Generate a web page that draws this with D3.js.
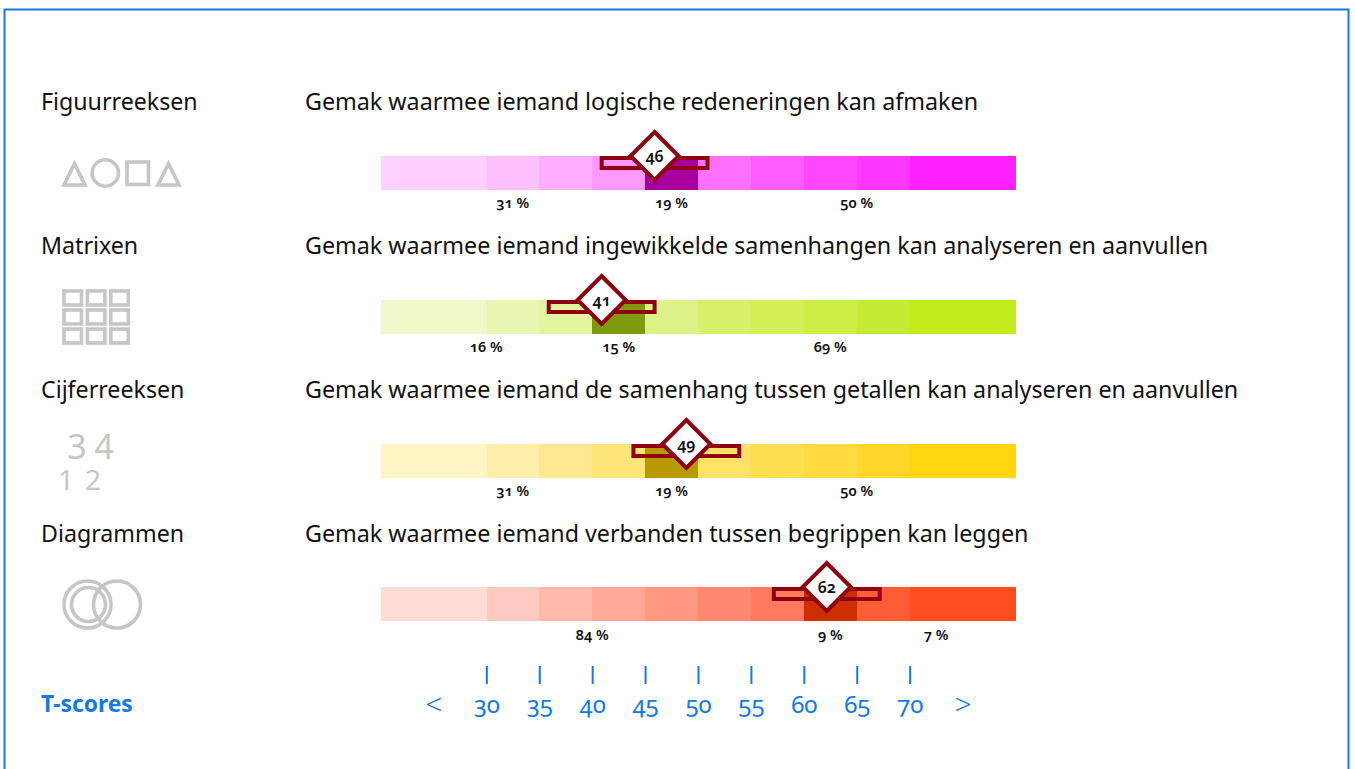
<!DOCTYPE html>
<html><head><meta charset="utf-8">
<script src="https://cdnjs.cloudflare.com/ajax/libs/d3/7.8.5/d3.min.js"></script>
<style>
html,body{margin:0;padding:0;background:#fff;overflow:hidden}
text{font-family:"Noto Sans","Open Sans",sans-serif;font-feature-settings:"onum" 1,"lnum" 0;}
</style></head><body><svg id="c" width="1355" height="769"></svg>
<script>
const categories=["Figuurreeksen","Matrixen","Cijferreeksen","Diagrammen"];
const descriptions=[
"Gemak waarmee iemand logische redeneringen kan afmaken",
"Gemak waarmee iemand ingewikkelde samenhangen kan analyseren en aanvullen",
"Gemak waarmee iemand de samenhang tussen getallen kan analyseren en aanvullen",
"Gemak waarmee iemand verbanden tussen begrippen kan leggen"];
const scores=[46,41,49,62];
const markerScores=[45.85,40.85,48.85,62.12];
const percentBelow=[31,16,31,84];
const percentWithin=[19,15,19,9];
const percentAbove=[50,69,50,7];
const bandEdges=[20,30,35,40,45,50,55,60,65,70,80];
const tickValues=[30,35,40,45,50,55,60,65,70];
const axisTitle="T-scores";
const scoreMargin=5, bandWidth=5;
const palettes=[
["#ffd0ff","#ffc0ff","#ffadff","#ff99ff","#a8009c","#ff70ff","#ff5cff","#ff47ff","#ff36ff","#ff20ff"],
["#eef8c8","#e7f6b2","#e1f49e","#7f9a0c","#dcf288","#d8f16a","#d2ef58","#cbed45","#c5ec32","#c3ec1e"],
["#fff5c4","#ffeeaa","#ffe88f","#ffe477","#b89a00","#ffe266","#ffde50","#ffdb3f","#ffd72a","#ffd60f"],
["#ffdcd4","#ffcbc0","#ffb9aa","#ffa996","#ff9881","#ff8970","#ff7a5e","#cf2e00","#ff5c36","#ff4d22"]];
const ink="#111", blue="#1478e6", red="#8f0010", gray="#c6c6c6";

const svg=d3.select("#c");
svg.append("rect").attr("x",4.5).attr("y",9.5).attr("width",1344).attr("height",800)
  .attr("fill","none").attr("stroke",blue).attr("stroke-width",2);

const x=d3.scaleLinear().domain([20,80]).range([381,1016]);
const snap=v=>Math.floor(x(v)+0.2);
const rowY=d3.scalePoint().domain(categories).range([156,587.4]);
const titleY=d3.scalePoint().domain(categories).range([110,542]);
const pctY=d3.scalePoint().domain(categories).range([208,640]);
const barH=34;

categories.forEach((cat,i)=>{
  const y0=Math.round(rowY(cat));
  const g=svg.append("g");
  g.append("text").attr("x",41).attr("y",titleY(cat)).attr("font-size",23.2).attr("fill",ink).text(cat);
  g.append("text").attr("x",305).attr("y",titleY(cat)).attr("font-size",23.28).attr("fill",ink).text(descriptions[i]);
  g.selectAll("rect.band").data(d3.pairs(bandEdges)).join("rect").attr("class","band")
    .attr("x",d=>snap(d[0])).attr("y",y0).attr("width",d=>snap(d[1])-snap(d[0])).attr("height",barH)
    .attr("fill",(d,j)=>palettes[i][j]);
  const lo=Math.floor(scores[i]/bandWidth)*bandWidth, hi=lo+bandWidth;
  const labels=[[(20+lo)/2,percentBelow[i]],[(lo+hi)/2,percentWithin[i]],[(hi+80)/2,percentAbove[i]]];
  g.selectAll("text.pct").data(labels).join("text").attr("class","pct")
    .attr("x",d=>x(d[0])-0.5).attr("y",pctY(cat)).attr("text-anchor","middle").attr("font-size",14.5).attr("font-weight",600).attr("fill",ink)
    .text(d=>d[1]+" %");
  const m=markerScores[i], cx=x(m), cy=y0;
  g.append("rect").attr("x",x(m-scoreMargin)).attr("y",y0+2).attr("width",x(m+scoreMargin)-x(m-scoreMargin)).attr("height",10)
    .attr("fill","none").attr("stroke",red).attr("stroke-width",4);
  g.append("path").attr("d",`M${cx},${cy-24}L${cx+24},${cy}L${cx},${cy+24}L${cx-24},${cy}Z`)
    .attr("fill","#fff").attr("stroke",red).attr("stroke-width",4);
  g.append("text").attr("x",cx).attr("y",cy+5.5).attr("text-anchor","middle").attr("font-size",16).attr("font-weight",600).attr("fill",ink).text(scores[i]);
});

// icons
const ic=svg.append("g").attr("fill","none").attr("stroke",gray).attr("stroke-width",3.6);
ic.append("path").attr("d","M74.5,163.5 L85,185 L64,185Z");
ic.append("circle").attr("cx",105.3).attr("cy",173).attr("r",13.2);
ic.append("rect").attr("x",127).attr("y",162).attr("width",21.5).attr("height",22.5);
ic.append("path").attr("d","M168.5,163.5 L179,185 L158,185Z");
const gridCols=d3.range(3), gridRows=d3.range(3);
gridRows.forEach(r=>gridCols.forEach(c=>{
  ic.append("rect").attr("x",64+c*23.4).attr("y",291+r*19).attr("width",17.5).attr("height",14);
}));
ic.append("circle").attr("cx",87.5).attr("cy",604.5).attr("r",23.5);
ic.append("circle").attr("cx",88.5).attr("cy",604.5).attr("r",17);
ic.append("circle").attr("cx",117).attr("cy",604.5).attr("r",23.5);
[["3",77,459],["4",104,459]].forEach(d=>svg.append("text").attr("x",d[1]).attr("y",d[2]).attr("text-anchor","middle").attr("font-size",34).attr("fill",gray).style("font-feature-settings",'"lnum" 1').text(d[0]));
[["1",66,490],["2",93,490]].forEach(d=>svg.append("text").attr("x",d[1]).attr("y",d[2]).attr("text-anchor","middle").attr("font-size",28).attr("fill",gray).style("font-feature-settings",'"lnum" 1').text(d[0]));

// axis
const axis=d3.axisBottom(x).tickValues(tickValues).tickSize(18).tickPadding(12).offset(0).tickFormat(d3.format("d"));
const ag=svg.append("g").attr("transform","translate(0,666)").call(axis);
ag.select(".domain").remove();
ag.selectAll("line").attr("stroke",blue).attr("stroke-width",2);
ag.selectAll("text").attr("fill",blue).attr("font-size",24).style("font-family",null).attr("font-weight",400);
svg.append("text").attr("x",x(25)).attr("y",715).attr("text-anchor","middle").attr("font-size",30).attr("font-weight",300).attr("fill",blue).text("<");
svg.append("text").attr("x",x(75)).attr("y",715).attr("text-anchor","middle").attr("font-size",30).attr("font-weight",300).attr("fill",blue).text(">");
svg.append("text").attr("x",41).attr("y",712).attr("font-size",22.8).attr("font-weight",700).attr("fill",blue).text(axisTitle);
</script></body></html>
